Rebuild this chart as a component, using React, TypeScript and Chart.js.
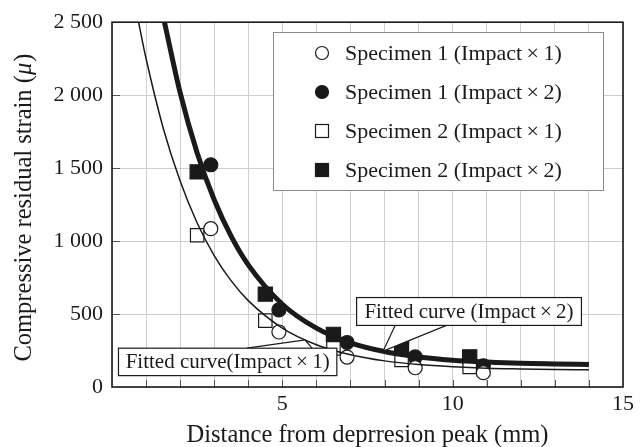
import React, { useEffect, useRef } from 'react';
import { Chart, registerables } from 'chart.js';

Chart.register(...registerables);

// ---- data ----
const s1i1X = [2.9, 4.9, 6.9, 8.9, 10.9];
const s1i1Y = [1085, 377, 205, 132, 98];
const s1i2X = [2.9, 4.9, 6.9, 8.9, 10.9];
const s1i2Y = [1523, 528, 305, 206, 145];
const s2i1X = [2.5, 4.5, 6.5, 8.5, 10.5];
const s2i1Y = [1040, 455, 265, 186, 138];
const s2i2X = [2.5, 4.5, 6.5, 8.5, 10.5];
const s2i2Y = [1474, 636, 361, 267, 206];

// fitted curves
const fit2X = [1.54, 2, 2.5, 3, 3.5, 4, 5, 6, 7, 8, 9, 10, 11, 12, 13, 14];
const fit2Y = [2500, 2017, 1604, 1283, 1032, 837, 567, 403, 303, 243, 206, 184, 171, 162, 158, 155];
const fit1X = [0.78, 1, 1.5, 2, 2.5, 3, 3.5, 4, 5, 6, 7, 8, 9, 10, 11, 12, 13, 14];
const fit1Y = [2500, 2251, 1777, 1411, 1124, 901, 727, 592, 404, 290, 221, 179, 154, 139, 129, 124, 120, 118];

const xTickLabels = [5, 10, 15];
const yTickValues = [0, 500, 1000, 1500, 2000, 2500];

const legendLabels = [
  'Specimen 1 (Impact\u2009\u00d7\u20091)',
  'Specimen 1 (Impact\u2009\u00d7\u20092)',
  'Specimen 2 (Impact\u2009\u00d7\u20091)',
  'Specimen 2 (Impact\u2009\u00d7\u20092)',
];
const callout2Text = 'Fitted curve (Impact\u2009\u00d7\u20092)';
const callout1Text = 'Fitted curve(Impact\u2009\u00d7\u20091)';
const xTitle = 'Distance from deprresion peak (mm)';
const yTitleMain = 'Compressive residual strain (';
const yTitleMu = '\u03bc';
const yTitleEnd = ')';

const FONT = '"Liberation Serif", "Times New Roman", serif';
const FS_TICK = 22;
const FS_LEG = 22;
const FS_TITLE = 24.5;
const FS_CALL = 21;
const INK = '#1a1a1a';

const pts = (xs: number[], ys: number[]) => xs.map((v, i) => ({ x: v, y: ys[i] }));

const fmtY = (v: number) => {
  if (v >= 1000) {
    const th = Math.floor(v / 1000);
    const rest = String(v % 1000).padStart(3, '0');
    return `${th} ${rest}`;
  }
  return String(v);
};

const customPlugin = {
  id: 'customDraw',
  afterDatasetsDraw(chart: any) {
    const { ctx, chartArea: ca, scales } = chart;
    const xs = scales.x;
    const ys = scales.y;
    const px = (v: number) => xs.getPixelForValue(v);
    const py = (v: number) => ys.getPixelForValue(v);
    ctx.save();

    // ---- callouts ----
    const drawCallout = (
      box: [number, number, number, number],
      tail: [number, number, number, number],
      text: string,
      tailOnTop: boolean
    ) => {
      const [x0, x1, yTop, yBot] = box;
      const L = px(x0), R = px(x1), T = py(yTop), B = py(yBot);
      const [b1, b2, ax, ay] = tail;
      const baseY = tailOnTop ? T : B;
      ctx.beginPath();
      ctx.moveTo(px(b1), baseY);
      ctx.lineTo(px(ax), py(ay));
      ctx.lineTo(px(b2), baseY);
      ctx.closePath();
      ctx.fillStyle = '#fff';
      ctx.fill();
      ctx.beginPath();
      ctx.moveTo(px(b1), baseY);
      ctx.lineTo(px(ax), py(ay));
      ctx.lineTo(px(b2), baseY);
      ctx.strokeStyle = INK;
      ctx.lineWidth = 1.2;
      ctx.stroke();
      ctx.fillStyle = '#fff';
      ctx.fillRect(L, T, R - L, B - T);
      ctx.strokeRect(L, T, R - L, B - T);
      ctx.fillStyle = INK;
      ctx.font = `${FS_CALL}px ${FONT}`;
      ctx.textAlign = 'center';
      ctx.textBaseline = 'middle';
      ctx.fillText(text, (L + R) / 2, (T + B) / 2 + 1);
    };
    drawCallout([7.18, 13.78, 613, 422], [8.31, 9.82, 7.96, 246], callout2Text, false);
    drawCallout([0.19, 6.6, 266, 78], [3.96, 5.87, 5.67, 322], callout1Text, true);

    // ---- legend ----
    const lgL = 273, lgT = 32, lgR = 603, lgB = 190;
    ctx.fillStyle = '#fff';
    ctx.fillRect(lgL, lgT, lgR - lgL, lgB - lgT);
    ctx.strokeStyle = '#8a8a8a';
    ctx.lineWidth = 1;
    ctx.strokeRect(lgL + 0.5, lgT + 0.5, lgR - lgL, lgB - lgT);
    const rowY = [53, 92, 131, 170];
    const mX = 322;
    legendLabels.forEach((lab, i) => {
      const yy = rowY[i];
      ctx.lineWidth = 1.2;
      ctx.strokeStyle = INK;
      if (i < 2) {
        ctx.beginPath();
        ctx.arc(mX, yy, 6.5, 0, Math.PI * 2);
        ctx.fillStyle = i === 0 ? '#fff' : INK;
        ctx.fill();
        ctx.stroke();
      } else {
        ctx.fillStyle = i === 2 ? '#fff' : INK;
        ctx.fillRect(mX - 6.5, yy - 6.5, 13, 13);
        ctx.strokeRect(mX - 6.5, yy - 6.5, 13, 13);
      }
      ctx.fillStyle = INK;
      ctx.font = `${FS_LEG}px ${FONT}`;
      ctx.textAlign = 'left';
      ctx.textBaseline = 'middle';
      ctx.fillText(lab, 345, yy + 1);
    });

    // ---- inward tick marks ----
    ctx.strokeStyle = '#555';
    ctx.lineWidth = 1;
    for (let v = 1; v < 15; v++) {
      const X = Math.round(px(v)) + 0.5;
      ctx.beginPath();
      ctx.moveTo(X, ca.bottom);
      ctx.lineTo(X, ca.bottom - 7);
      ctx.stroke();
    }
    yTickValues.forEach((v) => {
      if (v === 0 || v === 2500) return;
      const Y = Math.round(py(v)) + 0.5;
      ctx.beginPath();
      ctx.moveTo(ca.left, Y);
      ctx.lineTo(ca.left + 8, Y);
      ctx.stroke();
    });

    // ---- frame ----
    ctx.strokeStyle = INK;
    ctx.lineWidth = 1.6;
    ctx.strokeRect(ca.left, ca.top, ca.right - ca.left, ca.bottom - ca.top);

    // ---- y title with italic mu ----
    ctx.translate(25, (ca.top + ca.bottom) / 2 + 3);
    ctx.rotate(-Math.PI / 2);
    ctx.textBaseline = 'middle';
    ctx.textAlign = 'left';
    const fN = `${FS_TITLE}px ${FONT}`;
    const fI = `italic ${FS_TITLE}px ${FONT}`;
    ctx.font = fN;
    const w1 = ctx.measureText(yTitleMain).width;
    const w3 = ctx.measureText(yTitleEnd).width;
    ctx.font = fI;
    const w2 = ctx.measureText(yTitleMu).width;
    const tot = w1 + w2 + w3 + 1;
    let cx = -tot / 2;
    ctx.fillStyle = INK;
    ctx.font = fN;
    ctx.fillText(yTitleMain, cx, 0);
    cx += w1;
    ctx.font = fI;
    ctx.fillText(yTitleMu, cx, 0);
    cx += w2 + 1;
    ctx.font = fN;
    ctx.fillText(yTitleEnd, cx, 0);

    ctx.restore();
  },
};

export default function App() {
  const ref = useRef<HTMLCanvasElement | null>(null);
  useEffect(() => {
    if (!ref.current) return;
    const chart = new Chart(ref.current, {
      type: 'scatter',
      data: {
        datasets: [
          {
            type: 'line',
            label: 'fit2',
            data: pts(fit2X, fit2Y),
            borderColor: INK,
            borderWidth: 5,
            pointRadius: 0,
            fill: false,
            cubicInterpolationMode: 'monotone',
          } as any,
          {
            type: 'line',
            label: 'fit1',
            data: pts(fit1X, fit1Y),
            borderColor: INK,
            borderWidth: 1.5,
            pointRadius: 0,
            fill: false,
            cubicInterpolationMode: 'monotone',
          } as any,
          {
            label: legendLabels[0],
            data: pts(s1i1X, s1i1Y),
            pointStyle: 'circle',
            pointRadius: 7,
            backgroundColor: '#fff',
            borderColor: INK,
            borderWidth: 1.2,
          },
          {
            label: legendLabels[2],
            data: pts(s2i1X, s2i1Y),
            pointStyle: 'rect',
            pointRadius: 9.5,
            backgroundColor: '#fff',
            borderColor: INK,
            borderWidth: 1.2,
          },
          {
            label: legendLabels[1],
            data: pts(s1i2X, s1i2Y),
            pointStyle: 'circle',
            pointRadius: 7,
            backgroundColor: INK,
            borderColor: INK,
            borderWidth: 1.2,
          },
          {
            label: legendLabels[3],
            data: pts(s2i2X, s2i2Y),
            pointStyle: 'rect',
            pointRadius: 10,
            backgroundColor: INK,
            borderColor: INK,
            borderWidth: 1.2,
          },
        ],
      },
      options: {
        responsive: false,
        animation: false,
        events: [],
        layout: { padding: { top: 17, right: 18, left: 0, bottom: 0 } },
        plugins: {
          legend: { display: false },
          tooltip: { enabled: false },
        },
        scales: {
          x: {
            type: 'linear',
            min: 0,
            max: 15,
            afterFit: (s: any) => {
              s.height = 60;
            },
            ticks: {
              stepSize: 1,
              autoSkip: false,
              maxRotation: 0,
              padding: 4,
              color: INK,
              font: { family: FONT, size: FS_TICK },
              callback: (v: any) => (xTickLabels.includes(Number(v)) ? String(v) : ''),
            },
            grid: { color: '#cfcfcf', lineWidth: 1, drawTicks: false },
            border: { display: false },
            title: {
              display: true,
              text: xTitle,
              color: INK,
              font: { family: FONT, size: FS_TITLE, lineHeight: 0.9 },
              padding: { top: 0, bottom: 0 },
            },
          },
          y: {
            type: 'linear',
            min: 0,
            max: 2500,
            afterFit: (s: any) => {
              s.width = 112;
            },
            ticks: {
              stepSize: 500,
              padding: 9,
              color: INK,
              font: { family: FONT, size: FS_TICK },
              callback: (v: any) => (yTickValues.includes(Number(v)) ? fmtY(Number(v)) : ''),
            },
            grid: { color: '#cfcfcf', lineWidth: 1, drawTicks: false },
            border: { display: false },
          },
        },
      },
      plugins: [customPlugin],
    });
    return () => chart.destroy();
  }, []);
  return (
    <div style={{ position: 'fixed', left: 0, top: 0, width: 641, height: 447, background: '#fff' }}>
      <canvas ref={ref} width={641} height={447} />
    </div>
  );
}
